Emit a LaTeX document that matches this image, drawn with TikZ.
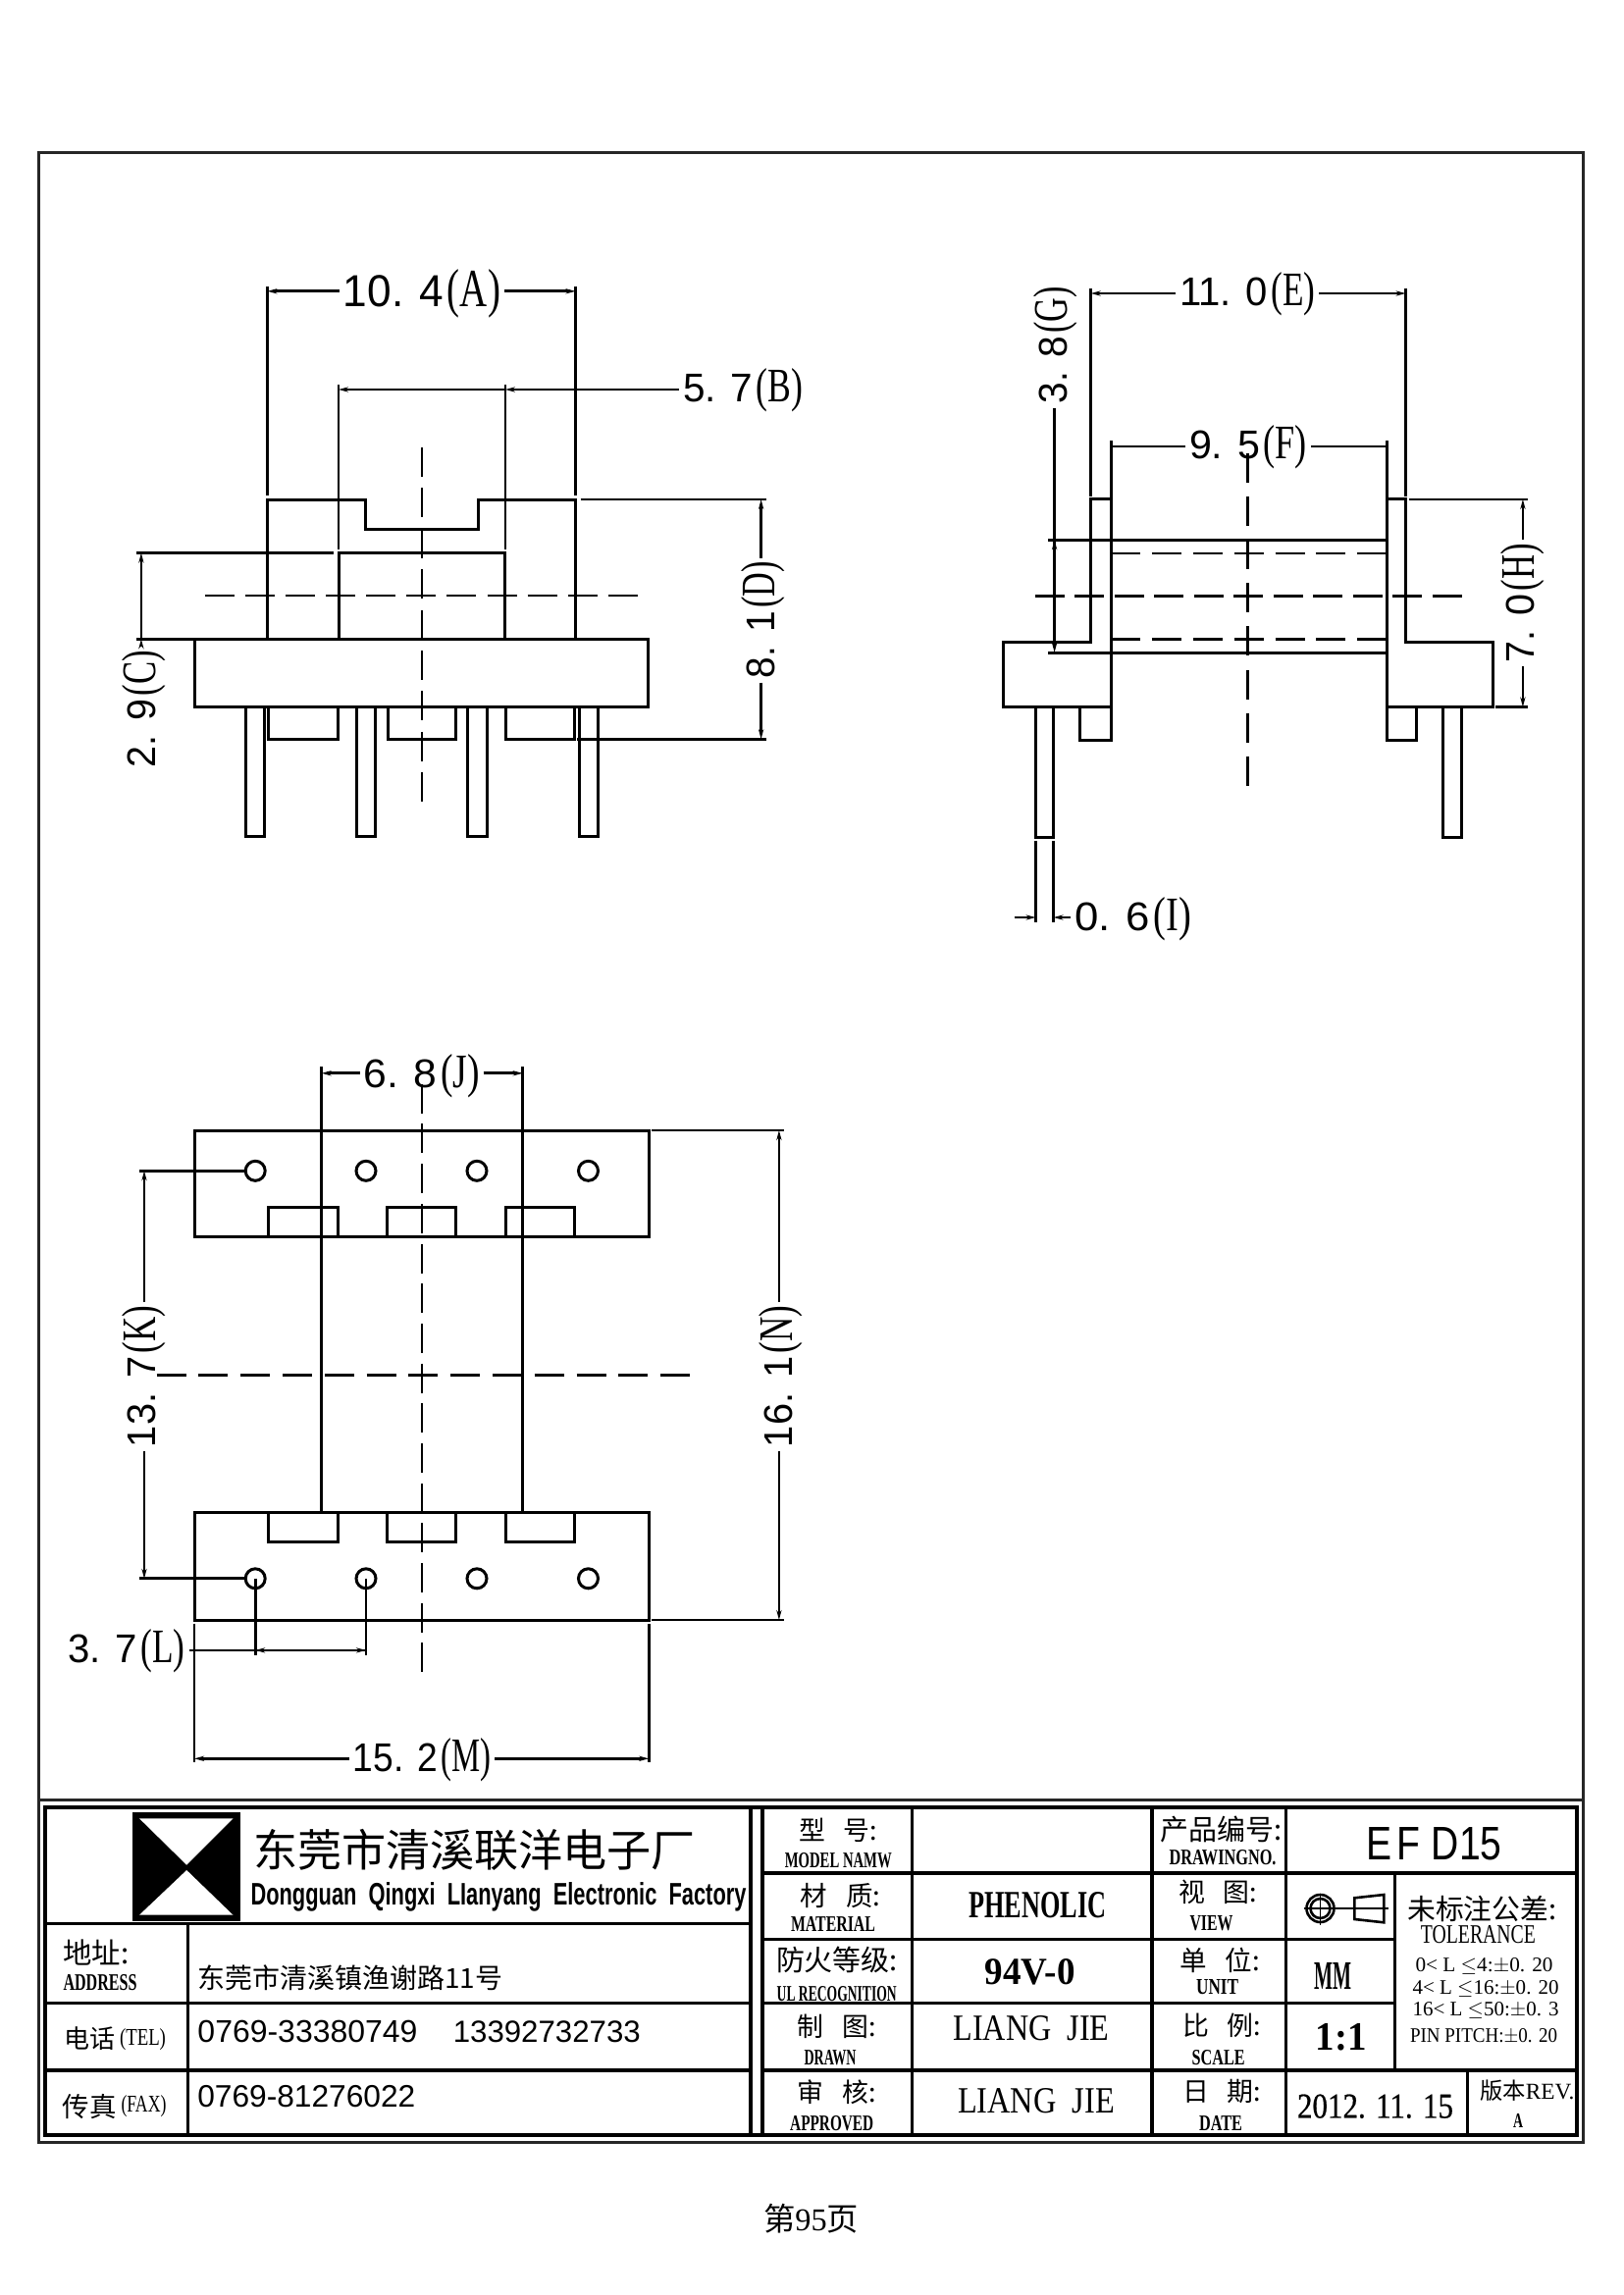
\documentclass[tikz,border=0pt]{standalone}
\usepackage{fontspec}
\usepackage{graphicx}
\usetikzlibrary{arrows.meta}
\setmainfont{Liberation Serif}
\setsansfont{Liberation Sans}
\newfontfamily\cjk{Noto Sans CJK SC}
\newlength\pxu \setlength\pxu{0.5pt}
\newcommand\fit[3]{\resizebox{#1\pxu}{#2\pxu}{#3}}
\newcommand\fitw[2]{\resizebox{#1\pxu}{!}{#2}}
\newcommand\dimt[4]{\fit{#1}{#2}{\sffamily #3\kern0.08em\rmfamily\scalebox{0.88}[1.2]{(#4)}}}
\newcommand\lb[3]{\fit{#1}{#2}{\bfseries #3}}
\newcommand\cg{\hspace{0.7em}}
\tikzset{
  obj/.style={line width=1.5pt,line join=miter,line cap=rect},
  dimln/.style={line width=1.4pt},
  tip/.style={-{Stealth[length=5pt,width=2.6pt]}},
  centerln/.style={line width=1.4pt,dash pattern=on 15pt off #1pt},
  frameln/.style={line width=1.5pt,black!85},
  tbl/.style={line width=1.6pt},
  txt/.style={inner sep=0pt,outer sep=0pt,anchor=center},
  lab/.style={txt,outer sep=2pt}
}
\begin{document}
\begin{tikzpicture}[x=0.5pt,y=-0.5pt]
\useasboundingbox (0,0) rectangle (1654,2339);
\fill[white] (0,0) rectangle (1654,2339);

% ---------- sheet frame
\draw[frameln] (39.5,155) rectangle (1613.7,2183.3);
\draw[frameln] (39.5,1834.7) -- (1613.7,1834.7);

% ---------- top-left view
\draw[obj] (198,651.3) rectangle (660.9,720.5);
\draw[obj] (272.4,651.3) -- (272.4,509) -- (372.5,509) -- (372.5,539) -- (487.3,539) -- (487.3,509) -- (586.5,509) -- (586.5,651.3);
\draw[obj] (345,651.3) -- (345,563.6) -- (514.9,563.6) -- (514.9,651.3);
\draw[obj] (273.8,720.5) -- (273.8,753.3) -- (344,753.3) -- (344,720.5);
\draw[obj] (395.5,720.5) -- (395.5,753.3) -- (464.4,753.3) -- (464.4,720.5);
\draw[obj] (515.8,720.5) -- (515.8,753.3) -- (585.6,753.3) -- (585.6,720.5);
\foreach \a/\b in {250.4/269.7,363.3/382.6,476.8/496,590.2/609}
  \draw[obj] (\a,720.5) -- (\a,852.9) -- (\b,852.9) -- (\b,720.5);
\draw[centerln=5.73] (430,455.7) -- (430,817.3);
\draw[centerln=5.57] (208.6,607) -- (650,607);
% extension lines
\draw[dimln] (272.4,291.6) -- (272.4,505);
\draw[dimln] (586.5,291.6) -- (586.5,505);
\draw[dimln] (345,392.4) -- (345,560);
\draw[dimln] (514.9,392.4) -- (514.9,560);
\draw[dimln] (139.3,563.6) -- (340.4,563.6);
\draw[dimln] (139.3,651.3) -- (198,651.3);
\draw[dimln] (591.5,509) -- (781,509);
\draw[dimln] (588,753.3) -- (781,753.3);
% dimensions
\node[lab] (dA) at (430,299) {\dimt{160}{38}{10. 4}{A}};
\coordinate (aL) at (272.4,296.8); \coordinate (aR) at (586.5,296.8);
\draw[dimln,tip] (dA.west |- aL) -- (aL);
\draw[dimln,tip] (dA.east |- aR) -- (aR);
\node[lab] (dB) at (757,398) {\dimt{122}{34}{5. 7}{B}};
\coordinate (bL) at (345,397); \coordinate (bR) at (514.9,397);
\draw[dimln,tip] (bR) -- (bL);
\draw[dimln,tip] (dB.west |- bR) -- (bR);
\node[lab,rotate=90] (dC) at (147,722.7) {\dimt{119}{34}{2. 9}{C}};
\coordinate (cT) at (143.9,563.6); \coordinate (cB) at (143.9,651.3);
\draw[dimln,tip] (cB) -- (cT);
\draw[dimln,tip] (dC.east -| cB) -- (cB);
\node[lab,rotate=90] (dD) at (778,632) {\dimt{119}{34}{8. 1}{D}};
\coordinate (dT) at (775.6,509); \coordinate (dB0) at (775.6,753.3);
\draw[dimln,tip] (dD.east -| dT) -- (dT);
\draw[dimln,tip] (dD.west -| dB0) -- (dB0);

% ---------- top-right view
\draw[obj] (1132,720.5) -- (1022.2,720.5) -- (1022.2,654.9) -- (1111.7,654.9) -- (1111.7,508.9) -- (1132,508.9);
\draw[obj] (1413.3,508.9) -- (1432.5,508.9) -- (1432.5,654.9) -- (1521.2,654.9) -- (1521.2,720.5) -- (1413.3,720.5);
\draw[obj] (1132,450.5) -- (1132,754.5) -- (1100.6,754.5) -- (1100.6,720.5);
\draw[obj] (1413.3,450.5) -- (1413.3,754.5) -- (1443.2,754.5) -- (1443.2,720.5);
\draw[obj] (1055.5,720.5) -- (1055.5,853.2) -- (1073.5,853.2) -- (1073.5,720.5);
\draw[obj] (1470.7,720.5) -- (1470.7,853.2) -- (1489,853.2) -- (1489,720.5);
\draw[obj] (1069.7,550.2) -- (1413.3,550.2);
\draw[obj] (1069.7,665) -- (1413.3,665);
\draw[centerln=5.94] (1132,564) -- (1413.3,564);
\draw[centerln=5.94] (1132,651.2) -- (1413.3,651.2);
\draw[centerln=5.26] (1054.7,607.6) -- (1489.9,607.6);
\draw[centerln=7.06] (1271.7,462) -- (1271.7,800.9);
% extension lines
\draw[dimln] (1111.7,294.4) -- (1111.7,505.6);
\draw[dimln] (1432.5,294.4) -- (1432.5,505.6);
\draw[dimln] (1436.3,508.9) -- (1556.8,508.9);
\draw[dimln] (1524.3,720.5) -- (1556.8,720.5);
\draw[dimln] (1055.5,856.9) -- (1055.5,939.5);
\draw[dimln] (1073.5,856.9) -- (1073.5,939.5);
% dimensions
\node[lab] (dE) at (1271.3,300) {\dimt{138}{34}{11. 0}{E}};
\coordinate (eL) at (1111.7,299); \coordinate (eR) at (1432.5,299);
\draw[dimln,tip] (dE.west |- eL) -- (eL);
\draw[dimln,tip] (dE.east |- eR) -- (eR);
\node[lab] (dF) at (1272,455.5) {\dimt{120}{34}{9. 5}{F}};
\coordinate (fL) at (1132,455); \coordinate (fR) at (1413.3,455);
\draw[dimln] (dF.west |- fL) -- (fL);
\draw[dimln] (dF.east |- fR) -- (fR);
\node[lab,rotate=90] (dG) at (1076,352) {\dimt{119}{34}{3. 8}{G}};
\coordinate (gT) at (1074.6,550.2); \coordinate (gB) at (1074.6,665);
\draw[dimln,tip] (dG.west -| gT) -- (1074.6,610) -- (gT);
\draw[dimln,tip] (1074.6,610) -- (gB);
\node[lab,rotate=90] (dH) at (1552,614.5) {\dimt{121}{34}{7. 0}{H}};
\coordinate (hT) at (1551.9,508.9); \coordinate (hB) at (1551.9,720.5);
\draw[dimln,tip] (dH.east -| hT) -- (hT);
\draw[dimln,tip] (dH.west -| hB) -- (hB);
\node[lab] (dI) at (1154.6,936.5) {\dimt{119}{34}{0. 6}{I}};
\coordinate (iL) at (1055.5,935); \coordinate (iR) at (1073.5,935);
\coordinate (iO) at (1033.7,935);
\draw[dimln,tip] (iO) -- (iL);
\draw[dimln,tip] (dI.west |- iR) -- (iR);

% ---------- bottom view
\draw[obj] (198,1152) rectangle (661.2,1260.5);
\draw[obj] (198,1541.6) rectangle (661.2,1651);
\foreach \a/\b in {273.5/344.4,394.9/464.8,515.3/585.7} {
  \draw[obj] (\a,1260.5) -- (\a,1230) -- (\b,1230) -- (\b,1260.5);
  \draw[obj] (\a,1541.6) -- (\a,1571.4) -- (\b,1571.4) -- (\b,1541.6);
}
\foreach \x in {260.2,373,486,599.5} {
  \draw[obj] (\x,1193.3) circle[radius=10];
  \draw[obj] (\x,1608.8) circle[radius=10];
}
\draw[obj] (327.6,1088.9) -- (327.6,1541.6);
\draw[obj] (532.7,1088.9) -- (532.7,1541.6);
\draw[centerln=5.34] (430,1104.8) -- (430,1704.3);
\draw[centerln=6.39] (159.7,1401.3) -- (703,1401.3);
% extension lines
\draw[dimln] (664.3,1152) -- (799,1152);
\draw[dimln] (664.3,1651) -- (799,1651);
\draw[dimln] (141.8,1193.3) -- (250.2,1193.3);
\draw[dimln] (141.8,1608.8) -- (250.2,1608.8);
\draw[dimln] (260.2,1608.8) -- (260.2,1687);
\draw[dimln] (373,1608.8) -- (373,1687);
\draw[dimln] (198,1654.5) -- (198,1796.3);
\draw[dimln] (661.2,1654.5) -- (661.2,1796.3);
% dimensions
\node[lab] (dJ) at (429.6,1097) {\dimt{118}{34}{6. 8}{J}};
\coordinate (jL) at (327.6,1093.8); \coordinate (jR) at (532.7,1093.8);
\draw[dimln,tip] (dJ.west |- jL) -- (jL);
\draw[dimln,tip] (dJ.east |- jR) -- (jR);
\node[lab,rotate=90] (dK) at (147,1403) {\dimt{144}{34}{13. 7}{K}};
\coordinate (kT) at (147,1193.3); \coordinate (kB) at (147,1608.8);
\draw[dimln,tip] (dK.east -| kT) -- (kT);
\draw[dimln,tip] (dK.west -| kB) -- (kB);
\node[lab] (dL) at (129,1683) {\dimt{119}{34}{3. 7}{L}};
\coordinate (lL) at (260.2,1681.9); \coordinate (lR) at (373,1681.9);
\draw[dimln] (dL.east |- lL) -- (lL);
\draw[dimln,tip] (lL) -- (lR);
\draw[dimln,tip] (lR) -- (lL);
\node[lab] (dM) at (430,1794) {\dimt{140}{34}{15. 2}{M}};
\coordinate (mL) at (198,1792.3); \coordinate (mR) at (661.2,1792.3);
\draw[dimln,tip] (dM.west |- mL) -- (mL);
\draw[dimln,tip] (dM.east |- mR) -- (mR);
\node[lab,rotate=90] (dN) at (796,1403) {\dimt{144}{34}{16. 1}{N}};
\coordinate (nT) at (793.9,1152); \coordinate (nB) at (793.9,1651);
\draw[dimln,tip] (dN.east -| nT) -- (nT);
\draw[dimln,tip] (dN.west -| nB) -- (nB);

% ---------- title block grid
\draw[line width=1.9pt] (46.3,1842) rectangle (1607,2175.7);
\draw[tbl] (765,1842) -- (765,2175.7);
\draw[tbl] (777,1842) -- (777,2175.7);
\draw[tbl] (46.3,1960.7) -- (765,1960.7);
\draw[tbl] (46.3,2041.3) -- (765,2041.3);
\draw[tbl] (46.3,2110) -- (765,2110);
\draw[tbl] (191.7,1960.7) -- (191.7,2175.7);
\draw[tbl] (777,1909) -- (1607,1909);
\draw[tbl] (777,1976.7) -- (1421.5,1976.7);
\draw[tbl] (777,2041.3) -- (1421.5,2041.3);
\draw[tbl] (777,2110) -- (1607,2110);
\draw[tbl] (929.3,1842) -- (929.3,2175.7);
\draw[tbl] (1174,1842) -- (1174,2175.7);
\draw[tbl] (1310.5,1842) -- (1310.5,2175.7);
\draw[tbl] (1421.5,1909) -- (1421.5,2110);
\draw[tbl] (1495.3,2110) -- (1495.3,2175.7);

% logo
\fill[black] (134.5,1846.7) rectangle (245.4,1958.3);
\fill[white] (142,1853.3) -- (237.5,1853.3) -- (190.2,1900.7) -- cycle;
\fill[white] (190.2,1906) -- (237.5,1951.7) -- (142,1951.7) -- cycle;

% company
\node[txt] (co) at (483.5,1885) {\fitw{451}{\cjk 东莞市清溪联洋电子厂}};
\node[txt] (coe) at (508,1933) {\fit{505}{23}{\sffamily\bfseries Dongguan\ \ Qingxi\ \ LIanyang\ \ Electronic\ \ Factory}};

% left table
\node[txt] (l1) at (98,1990) {\fitw{67}{\cjk 地址:}};
\node[txt] (l2) at (102,2020.7) {\lb{75}{16}{ADDRESS}};
\node[txt] (l3) at (357,2016) {\fitw{311}{\cjk 东莞市清溪镇渔谢路11号}};
\node[txt] (l4) at (91,2078) {\fitw{52}{\cjk 电话}};
\node[txt] (l5) at (145.5,2079) {\fit{47}{17}{(TEL)}};
\node[txt] (l6) at (91,2146.7) {\fitw{55}{\cjk 传真}};
\node[txt] (l7) at (146.5,2147) {\fit{46}{17}{(FAX)}};
\node[txt] (l8) at (313.5,2070.7) {\fitw{224}{\sffamily 0769-33380749}};
\node[txt] (l9) at (557.3,2070.7) {\fitw{191}{\sffamily 13392732733}};
\node[txt] (l10) at (312.3,2136.7) {\fitw{222}{\sffamily 0769-81276022}};

% right table, column 1
\node[txt] (a1) at (854,1865) {\fitw{80}{\cjk 型\cg 号:}};
\node[txt] (a2) at (854.3,1896) {\lb{109}{15}{MODEL NAMW}};
\node[txt] (a3) at (856.6,1931.7) {\fitw{82}{\cjk 材\cg 质:}};
\node[txt] (a4) at (849,1961) {\lb{86}{15}{MATERIAL}};
\node[txt] (a5) at (853,1997.7) {\fitw{124}{\cjk 防火等级:}};
\node[txt] (a6) at (852.7,2031.7) {\lb{122}{15}{UL RECOGNITION}};
\node[txt] (a7) at (852.8,2065) {\fitw{80}{\cjk 制\cg 图:}};
\node[txt] (a8) at (846,2096.7) {\lb{53}{15}{DRAWN}};
\node[txt] (a9) at (852.8,2131.7) {\fitw{80}{\cjk 审\cg 核:}};
\node[txt] (a10) at (847.7,2164.3) {\lb{85}{15}{APPROVED}};
% column 2
\node[txt] (b1) at (1057.4,1941.7) {\lb{140}{26}{PHENOLIC}};
\node[txt] (b2) at (1049.7,2010) {\lb{92}{26}{94V-0}};
\node[txt] (b3) at (1051,2067.3) {\fit{159}{25}{LIANG\ \ JIE}};
\node[txt] (b4) at (1056,2140.7) {\fit{160}{25}{LIANG\ \ JIE}};
% column 3
\node[txt] (c1) at (1244.5,1864.3) {\fitw{124}{\cjk 产品编号:}};
\node[txt] (c2) at (1246,1893) {\lb{109}{15}{DRAWINGNO.}};
\node[txt] (c3) at (1241,1928) {\fitw{80}{\cjk 视\cg 图:}};
\node[txt] (c4) at (1234.5,1960) {\lb{44}{15}{VIEW}};
\node[txt] (c5) at (1243,1997.7) {\fitw{82}{\cjk 单\cg 位:}};
\node[txt] (c6) at (1240.6,2025) {\lb{43}{15}{UNIT}};
\node[txt] (c7) at (1245,2064) {\fitw{80}{\cjk 比\cg 例:}};
\node[txt] (c8) at (1241.7,2096.7) {\lb{54}{15}{SCALE}};
\node[txt] (c9) at (1245,2131.7) {\fitw{80}{\cjk 日\cg 期:}};
\node[txt] (c10) at (1244,2164.3) {\lb{44}{15}{DATE}};
% column 4
\node[txt] (e1) at (1461.5,1879) {\fit{138}{33}{\sffamily E\kern.12em F\kern.3em D15}};
\node[txt] (e2) at (1358.8,2014) {\lb{38}{27}{MM}};
\node[txt] (e3) at (1366.5,2076) {\lb{52}{27}{1:1}};
\node[txt] (e4) at (1401.5,2146.7) {\fit{159}{24}{\addfontfeature{FakeBold=0.6}2012. 11. 15}};
\node[txt] (e5) at (1556.3,2131) {\fitw{96}{{\cjk 版本}REV.}};
\node[txt] (e6) at (1547,2161.7) {\lb{10}{14}{A}};
% view symbol
\draw[line width=1.3pt] (1345.5,1945) circle[radius=14];
\draw[line width=1.3pt] (1345.5,1945) circle[radius=10];
\draw[line width=0.6pt] (1328.8,1945) -- (1414.8,1945);
\draw[line width=0.6pt] (1345.5,1930) -- (1345.5,1961.7);
\draw[line width=1.3pt] (1380.4,1934.3) -- (1410.4,1931) -- (1410.4,1959.3) -- (1380.4,1956) -- cycle;
% tolerance
\node[txt] (f1) at (1510.3,1945) {\fitw{152}{\cjk 未标注公差:}};
\node[txt] (f2) at (1506.4,1971.7) {\fit{117}{18}{TOLERANCE}};
\node[txt] (f3) at (1512.5,2004) {\fit{140}{14}{0< L \ensuremath{\leq}4:\ensuremath{\pm}0. 20}};
\node[txt] (f4) at (1514,2026.7) {\fit{149}{14}{4< L \ensuremath{\leq}16:\ensuremath{\pm}0. 20}};
\node[txt] (f5) at (1514,2049) {\fit{149}{14}{16< L \ensuremath{\leq}50:\ensuremath{\pm}0. 3}};
\node[txt] (f6) at (1512,2075) {\fit{150}{14}{PIN PITCH:\ensuremath{\pm}0. 20}};

% page number
\node[txt] (pg) at (826.5,2261) {\fitw{97}{{\cjk 第}95{\cjk 页}}};
\end{tikzpicture}
\end{document}
